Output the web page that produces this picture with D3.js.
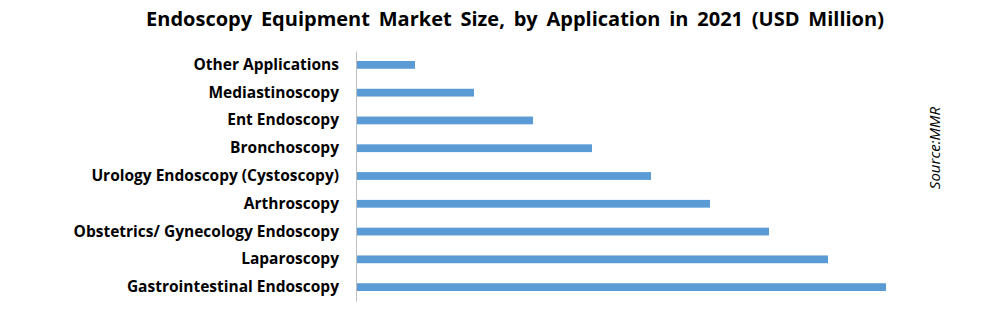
<!DOCTYPE html>
<html>
<head>
<meta charset="utf-8">
<script src="https://cdn.jsdelivr.net/npm/d3@7"></script>
<style>
  body { margin: 0; background: #fff; }
  text { font-family: "Open Sans", "DejaVu Sans", sans-serif; }
</style>
</head>
<body>
<div id="chart"></div>
<script>
// categories top to bottom
var categories = [
  "Other Applications",
  "Mediastinoscopy",
  "Ent Endoscopy",
  "Bronchoscopy",
  "Urology Endoscopy (Cystoscopy)",
  "Arthroscopy",
  "Obstetrics/ Gynecology Endoscopy",
  "Laparoscopy",
  "Gastrointestinal Endoscopy"
];
// estimated, no axis shown
var values = [59, 118, 177, 236, 295, 354, 413, 472, 530];

var titleText = "Endoscopy Equipment Market Size, by Application in 2021 (USD Million)";
var sourceText = "Source:MMR";

var renderBarChart = function(){
  var width = 990;
  var height = 314;
  var margin = {top: 51, right: 104, bottom: 13, left: 356};

  var svg = d3.select("#chart")
    .append("svg")
    .attr("width", width)
    .attr("height", height);

  var x = d3.scaleLinear()
    .domain([0, 530])
    .range([margin.left, 886]);

  var y = d3.scaleBand()
    .domain(categories)
    .range([margin.top, height - margin.bottom])
    .paddingInner(0.72)
    .paddingOuter(0.36);

  svg.append("text")
    .attr("x", 515)
    .attr("y", 26)
    .attr("text-anchor", "middle")
    .attr("font-size", "20px")
    .attr("font-weight", "bold")
    .attr("word-spacing", "3.6px")
    .attr("fill", "#000")
    .text(titleText);

  svg.selectAll("rect.bar")
    .data(values)
    .enter()
    .append("rect")
    .attr("class", "bar")
    .attr("x", x(0))
    .attr("y", function(d, i){ return y(categories[i]); })
    .attr("width", function(d){ return x(d) - x(0); })
    .attr("height", y.bandwidth())
    .attr("fill", "#5b9bd5");

  var yAxis = svg.append("g")
    .attr("transform", "translate(" + x(0) + ",0)")
    .call(d3.axisLeft(y).tickSize(0).tickPadding(17));

  yAxis.select(".domain")
    .attr("stroke", "#bfbfbf")
    .attr("stroke-width", 1);

  yAxis.selectAll("text")
    .attr("font-size", "15.5px")
    .attr("font-weight", "bold")
    .attr("fill", "#000")
    .style("font-family", "'Open Sans', sans-serif");

  svg.append("text")
    .attr("transform", "translate(940,148) rotate(-90)")
    .attr("text-anchor", "middle")
    .attr("font-size", "15px")
    .attr("font-style", "italic")
    .attr("fill", "#000")
    .text(sourceText);
}

renderBarChart();
</script>
</body>
</html>
